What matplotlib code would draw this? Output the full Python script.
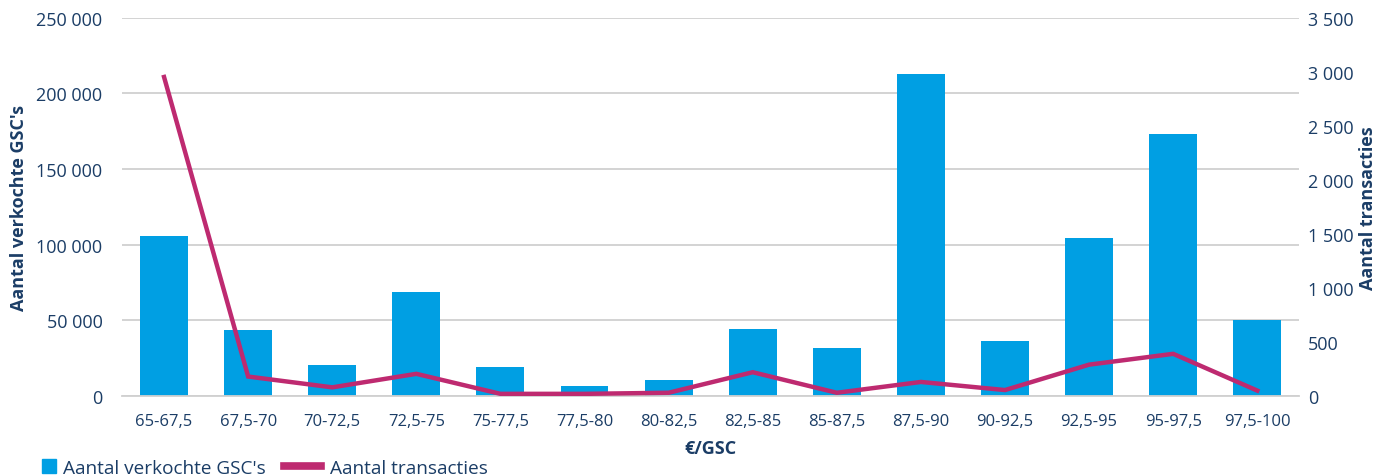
import matplotlib
matplotlib.use("Agg")
import matplotlib.pyplot as plt
from matplotlib import font_manager
from matplotlib.ticker import FuncFormatter, MultipleLocator
from matplotlib.patches import Patch
from matplotlib.lines import Line2D

categories = ["65-67,5", "67,5-70", "70-72,5", "72,5-75", "75-77,5", "77,5-80",
              "80-82,5", "82,5-85", "85-87,5", "87,5-90", "90-92,5", "92,5-95",
              "95-97,5", "97,5-100"]
gsc_sold = [105500, 43500, 20300, 68500, 19100, 6500, 10600, 44200, 31600,
            212500, 36200, 104200, 173000, 50000]
transactions = [2950, 180, 80, 205, 20, 20, 30, 220, 30, 130, 55, 290, 390, 50]

NAVY = "#1b3d66"
BLUE = "#009fe3"
MAGENTA = "#be2a70"
GRID = "#d0d0d0"

plt.rcParams['font.family'] = ['Open Sans', 'DejaVu Sans']

# pick a condensed font for the category labels if one is installed
fonts = font_manager.fontManager.ttflist
names = {f.name for f in fonts}
xt_kw = dict(family=['Open Sans', 'DejaVu Sans'], fontsize=12)
if 'Liberation Sans Narrow' in names:
    xt_kw = dict(family=['Liberation Sans Narrow'], fontsize=13.5)

fig = plt.figure(figsize=(13.77, 4.77), dpi=100)
ax = fig.add_axes([0.0886, 0.1677, 0.855, 0.7935])
ax2 = ax.twinx()

x = list(range(len(categories)))
ax.bar(x, gsc_sold, width=0.57, color=BLUE, zorder=2)
ax2.plot(x, transactions, color=MAGENTA, lw=3.2, solid_joinstyle='miter', zorder=3)

ax.set_xlim(-0.5, len(categories) - 0.5)
ax.set_ylim(0, 250000)
ax2.set_ylim(0, 3500)
ax.yaxis.set_major_locator(MultipleLocator(50000))
ax2.yaxis.set_major_locator(MultipleLocator(500))

def fmt(v, pos):
    return f"{int(round(v)):,}".replace(",", " ")

ax.yaxis.set_major_formatter(FuncFormatter(fmt))
ax2.yaxis.set_major_formatter(FuncFormatter(fmt))

ax.grid(axis='y', color=GRID, lw=1.3, zorder=0)
ax.set_axisbelow(True)
for a in (ax, ax2):
    for s in a.spines.values():
        s.set_visible(False)
    a.tick_params(length=0, colors=NAVY, labelsize=13)
ax.spines['bottom'].set_visible(True)
ax.spines['bottom'].set_color(GRID)
ax.spines['bottom'].set_linewidth(1.3)

ax.set_xticks(x)
ax.set_xticklabels(categories, **xt_kw)
ax.tick_params(axis='x', pad=12)
ax.tick_params(axis='y', pad=14)
ax2.tick_params(axis='y', pad=6)

ax.set_xlabel("€/GSC", color=NAVY, fontsize=13, fontweight='bold')
ax.xaxis.set_label_coords(0.5, -0.114)
ax.set_ylabel("Aantal verkochte GSC's", color=NAVY, fontsize=13, fontweight='bold')
ax.yaxis.set_label_coords(-0.08, 0.5)
ax2.set_ylabel("Aantal transacties", color=NAVY, fontsize=13, fontweight='bold')
ax2.yaxis.set_label_coords(1.051, 0.5)

leg1 = fig.legend([Patch(color=BLUE)], ["Aantal verkochte GSC's"], loc='lower left',
                  bbox_to_anchor=(0.018, -0.038), frameon=False, fontsize=13.7,
                  handlelength=0.75, handleheight=0.75, handletextpad=0.35)
leg2 = fig.legend([Line2D([0], [0], color=MAGENTA, lw=5.5)], ["Aantal transacties"],
                  loc='lower left', bbox_to_anchor=(0.194, -0.038), frameon=False,
                  fontsize=13.7, handlelength=1.95, handletextpad=0.45)
for leg in (leg1, leg2):
    for t in leg.get_texts():
        t.set_color(NAVY)
leg2.legend_handles[0].set_linewidth(5.5)

fig.savefig("out.png", dpi=100)
